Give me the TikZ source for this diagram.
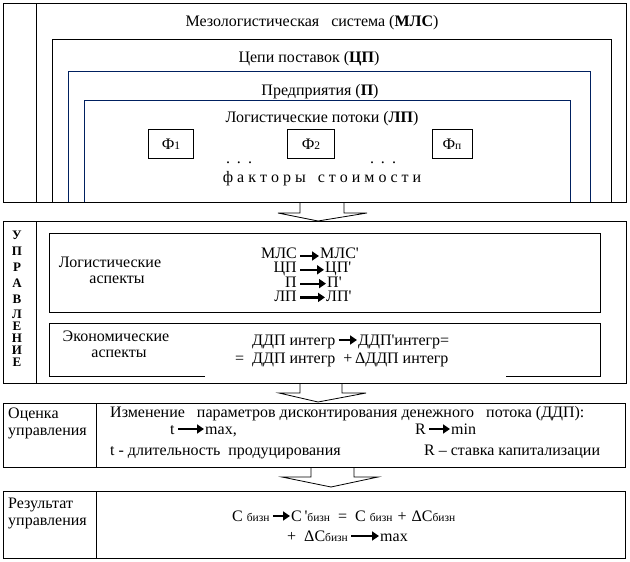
\documentclass[tikz,border=0pt]{standalone}
\usepackage{fontspec}
\setmainfont{Liberation Serif}
\usetikzlibrary{arrows.meta}
\definecolor{navy}{RGB}{0,32,96}
\tikzset{
  frame/.style={line width=1pt, line join=miter},
  lbl/.style={inner sep=0pt, font=\fontsize{16}{18}\selectfont},
  col/.style={inner sep=0pt, font=\fontsize{16}{13.8}\selectfont},
  fat/.style={line width=2.2pt, -{Triangle[length=7pt,width=9pt]}, shorten <=3pt, shorten >=1pt},
  fbox/.style={draw, line width=1pt, minimum height=29pt, inner sep=0pt, font=\fontsize{16}{18}\selectfont},
  vlet/.style={inner sep=0pt, font=\fontsize{13}{13}\selectfont\bfseries},
  blockarrow/.style={line width=0.8pt, line join=miter}
}
\newcommand{\sm}[1]{{\fontsize{11.5}{11.5}\selectfont #1}}
\newcommand{\pr}{\textquotesingle}
\begin{document}
\begin{tikzpicture}[x=1pt,y=-1pt]
\useasboundingbox (0,0) rectangle (630,562);

% ---------- top section ----------
\draw[frame] (3,3) rectangle (626,202);
\draw[frame] (36,3) -- (36,202);
\draw[frame] (52,202) -- (52,39) -- (611,39) -- (611,202);
\draw[frame,navy] (68,202) -- (68,71) -- (590,71) -- (590,202);
\draw[frame,navy] (84,202) -- (84,100) -- (570,100) -- (570,202);

\node[lbl, anchor=base] (t0) at (312,27) {Мезологистическая\ \ \ система (\textbf{МЛС})};
\node[lbl, anchor=base] (t1) at (309,62) {Цепи поставок (\textbf{ЦП})};
\node[lbl, anchor=base] (t2) at (320,95) {Предприятия (\textbf{П})};
\node[lbl, anchor=base] (t3) at (322,122) {Логистические потоки (\textbf{ЛП})};

\node[fbox, minimum width=45pt] (f1) at (171,144) {Ф\sm{1}};
\node[fbox, minimum width=47pt] (f2) at (311,144) {Ф\sm{2}};
\node[fbox, minimum width=40pt] (f3) at (452,144) {Ф\sm{п}};

\node[lbl, anchor=base] (d1) at (239,163) {.\hspace{7pt}.\hspace{7pt}.};
\node[lbl, anchor=base] (d2) at (383,163) {.\hspace{7pt}.\hspace{7pt}.};
\node[lbl, anchor=base] (fs) at (322,182) {ф а к т о р ы\ \ \ с т о и м о с т и};

% arrow 1
\draw[blockarrow] (300,202) -- (300,213) -- (278,213) -- (318,221) -- (367,213) -- (344,213) -- (344,202);

% ---------- section 2 ----------
\draw[frame] (3,221) rectangle (626,383);
\draw[frame] (36,221) -- (36,383);
\draw[frame] (49,233) rectangle (600,312);
\draw[frame] (205,376) -- (49,376) -- (49,323) -- (600,323) -- (600,376) -- (506,376);

\node[vlet] (v1) at (17,235) {У};
\node[vlet] (v2) at (17,251) {П};
\node[vlet] (v3) at (17,267) {Р};
\node[vlet] (v4) at (17,283) {А};
\node[vlet] (v5) at (17,299) {В};
\node[vlet] (v6) at (17,314) {Л};
\node[vlet] (v7) at (17,326) {Е};
\node[vlet] (v8) at (17,338) {Н};
\node[vlet] (v9) at (17,350) {И};
\node[vlet] (v10) at (17,362) {Е};

\node[lbl, anchor=base] (la) at (110,267) {Логистические};
\node[lbl, anchor=base] (lb) at (117,283) {аспекты};

% formula columns (one node per column)
\node[col, align=right, anchor=north east] (lc) at (297,248) {МЛС\\ЦП\hspace{15pt}\\П\\ЛП};
\node[col, align=left, anchor=north west] (rc) at (320,248) {МЛС\pr\\\hspace{5pt}ЦП\pr\\\hspace{7pt}П\pr\\\hspace{6pt}ЛП\pr};
\draw[fat] (lc.east |- 0,256) -- (rc.west |- 0,256);
\draw[fat] (lc.east |- 0,269.8) -- ([xshift=5pt]rc.west |- 0,269.8);
\draw[fat] (lc.east |- 0,283.6) -- ([xshift=7pt]rc.west |- 0,283.6);
\draw[fat] (lc.east |- 0,297.4) -- ([xshift=6pt]rc.west |- 0,297.4);

\node[lbl, anchor=base] (ea) at (116,341) {Экономические};
\node[lbl, anchor=base] (eb) at (119,357) {аспекты};

\node[lbl, anchor=base west] (g1) at (252,345) {ДДП интегр};
\node[lbl, anchor=base west] (g2) at (358,345) {ДДП\pr интегр=};
\draw[fat] (g1.east |- 0,340) -- (g2.west |- 0,340);
\node[lbl, anchor=base west] (g3) at (235,363) {=\ \ ДДП интегр\ \ +\,ΔДДП интегр};

% arrow 2
\draw[blockarrow] (300,383) -- (300,393) -- (279,393) -- (318,402) -- (366,393) -- (342,393) -- (342,383);

% ---------- Оценка ----------
\draw[frame] (3,403) rectangle (625,467);
\draw[frame] (96,403) -- (96,467);
\node[lbl, anchor=base west] (o1) at (8,418) {Оценка};
\node[lbl, anchor=base west] (o2) at (8,435) {управления};
\node[lbl, anchor=base west] (q1) at (110,417) {Изменение\ \ \ параметров дисконтирования денежного\ \ \ потока (ДДП):};
\node[lbl, anchor=base west] (qt) at (170,434) {t};
\node[lbl, anchor=base west] (qmax) at (205,434) {max,};
\draw[fat] (qt.east |- 0,429) -- (qmax.west |- 0,429);
\node[lbl, anchor=base west] (qr) at (415,434) {R};
\node[lbl, anchor=base west] (qmin) at (451,434) {min};
\draw[fat] (qr.east |- 0,429) -- (qmin.west |- 0,429);
\node[lbl, anchor=base west] (q3) at (110,455) {t - длительность\ \ продуцирования};
\node[lbl, anchor=base west] (q4) at (424,455) {R – ставка капитализации};

% arrow 3
\draw[blockarrow] (311,467) -- (311,477) -- (282,477) -- (331,487) -- (378,477) -- (354,477) -- (354,467);

% ---------- Результат ----------
\draw[frame] (3,491) rectangle (625,558);
\draw[frame] (96,491) -- (96,558);
\node[lbl, anchor=base west] (r1) at (8,508) {Результат};
\node[lbl, anchor=base west] (r2) at (8,525) {управления};

\node[lbl, anchor=base west] (ca) at (232,521) {С \sm{бизн}};
\node[lbl, anchor=base west] (cb) at (291,521) {С\,\pr\sm{бизн}\hspace{8pt}=\hspace{8pt}С \sm{бизн}\hspace{5pt}+\hspace{5pt}ΔС\sm{бизн}};
\draw[fat] (ca.east |- 0,516) -- (cb.west |- 0,516);
\node[lbl, anchor=base west] (cc) at (287,541) {+\ \ ΔС\sm{бизн}};
\node[lbl, anchor=base west] (cd) at (380,541) {max};
\draw[fat] (cc.east |- 0,536) -- (cd.west |- 0,536);
\end{tikzpicture}
\end{document}
